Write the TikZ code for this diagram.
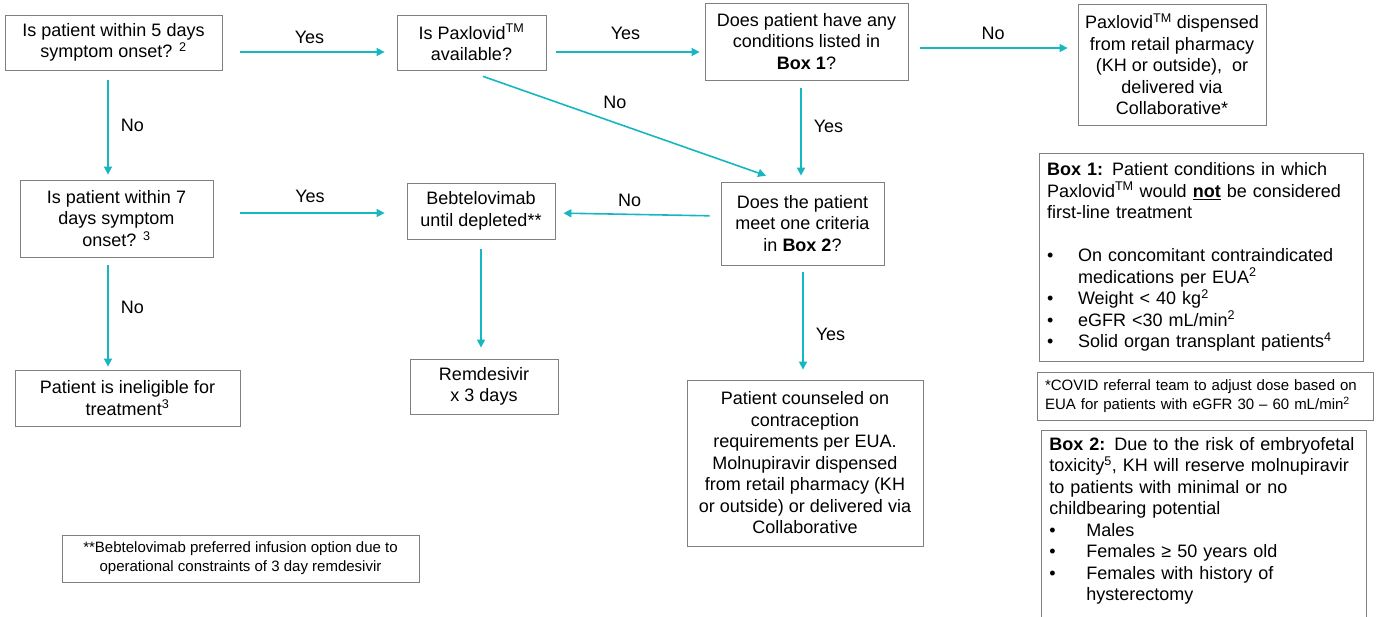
\documentclass[tikz,border=0pt]{standalone}
\usepackage{fontspec}
\setmainfont{Liberation Sans}
\usepackage{tikz}
\usetikzlibrary{positioning}
\usetikzlibrary{arrows.meta}
\definecolor{flowteal}{RGB}{23,183,194}
\definecolor{boxgray}{RGB}{128,128,128}
\newcommand{\bl}[1][31pt]{\makebox[#1][l]{\textbullet}}
\newcommand{\tm}{\textsuperscript{TM}}

\begin{document}
\begin{tikzpicture}[x=1pt,y=-1pt,
  font=\fontsize{18}{21.5}\selectfont,
  box/.style={draw=boxgray, line width=0.8pt, align=center, inner sep=0pt},
  notebox/.style={box, font=\fontsize{15}{19}\selectfont},
  flow/.style={draw=flowteal, line width=1.6pt, -{Triangle[length=8pt,width=8pt]}},
  lbl/.style={inner sep=1pt}]
\useasboundingbox (0,0) rectangle (1376,616);

% questions and outcomes
\node[box, minimum width=217pt, minimum height=55pt] (q5) at (113.5,42.5) {Is patient within 5 days\\symptom onset? \textsuperscript{2}};
\node[box, minimum width=149pt, minimum height=55pt] (paxq) at (471.5,42.5) {Is Paxlovid\tm\\available?};
\node[box, minimum width=203pt, minimum height=77pt] (box1q) at (806.5,41.5) {Does patient have any\\conditions listed in\\\textbf{Box 1}?};
\node[box, minimum width=188pt, minimum height=121pt] (paxdisp) at (1172,64.5) {Paxlovid\tm{} dispensed\\from retail pharmacy\\(KH or outside),\ \ or\\delivered via\\Collaborative*};
\node[box, minimum width=193pt, minimum height=77pt] (q7) at (116.5,218.5) {Is patient within 7\\days symptom\\onset? \textsuperscript{3}};
\node[box, minimum width=148pt, minimum height=56pt] (bebt) at (481,211) {Bebtelovimab\\until depleted**};
\node[box, minimum width=163pt, minimum height=83pt] (critq) at (802.5,223.5) {Does the patient\\meet one criteria\\in \textbf{Box 2}?};
\node[box, minimum width=225pt, minimum height=56pt] (inelig) at (127.5,398) {Patient is ineligible for\\treatment\textsuperscript{3}};
\node[box, minimum width=148pt, minimum height=55pt] (remdes) at (484,386.5) {Remdesivir\\x 3 days};
\node[box, minimum width=236pt, minimum height=166pt] (counsel) at (805,463) {Patient counseled on\\contraception\\requirements per EUA.\\Molnupiravir dispensed\\from retail pharmacy (KH\\or outside) or delivered via\\Collaborative};

% side boxes
\node[box, align=left, inner xsep=8pt, text width=308pt, minimum height=208pt] (boxone) at (1201,257) {\textbf{Box 1:} Patient conditions in which\\Paxlovid\tm{} would \underline{\textbf{not}} be considered\\first-line treatment\\[\baselineskip]
\bl On concomitant contraindicated\\\hspace*{31pt}medications per EUA\textsuperscript{2}\\\bl Weight < 40 kg\textsuperscript{2}\\\bl eGFR <30 mL/min\textsuperscript{2}\\\bl Solid organ transplant patients\textsuperscript{4}};
\node[notebox, align=left, inner xsep=8pt, text width=320pt, minimum height=48pt] (covnote) at (1205,396) {*COVID referral team to adjust dose based on\\EUA for patients with eGFR 30 – 60 mL/min\textsuperscript{2}};
\node[box, align=left, anchor=north west, inner xsep=8pt, inner ysep=7pt, text width=309pt, text depth=180pt] (boxtwo) at (1041,430) {\textbf{Box 2:} Due to the risk of embryofetal\\toxicity\textsuperscript{5}, KH will reserve molnupiravir\\to patients with minimal or no\\childbearing potential\\
\bl[37pt]Males\\\bl[37pt]Females ≥ 50 years old\\\bl[37pt]Females with history of\\\hspace*{37pt}hysterectomy};
\node[notebox, minimum width=357pt, minimum height=47pt] (bebtnote) at (240.5,558.5) {**Bebtelovimab preferred infusion option due to\\operational constraints of 3 day remdesivir};

% connectors
\draw[flow, shorten <=18pt, shorten >=12pt] ([yshift=-9.5pt]q5.east) -- ([yshift=-9.5pt]q5.east -| paxq.west) node[lbl, midway, above=7pt] {Yes};
\draw[flow, shorten <=10pt, shorten >=5pt] ([yshift=-9.5pt]paxq.east) -- ([yshift=-9.5pt]paxq.east -| box1q.west) node[lbl, midway, above=11pt] {Yes};
\draw[flow, shorten <=12pt, shorten >=10pt] ([yshift=-6.5pt]box1q.east) -- ([yshift=-6.5pt]box1q.east -| paxdisp.west) node[lbl, midway, above=7pt] {No};
\draw[flow, shorten <=10pt, shorten >=5pt] ([xshift=-5.5pt]q5.south) -- ([xshift=-5.5pt]q5.south |- q7.north) node[lbl, midway, right=11pt] {No};
\draw[flow, shorten <=8pt, shorten >=3pt] ([xshift=-8.5pt]q7.south) -- ([xshift=-8.5pt]q7.south |- inelig.north) node[lbl, pos=0.45, right=11pt] {No};
\draw[flow, shorten <=27pt, shorten >=22pt] ([yshift=5.5pt]q7.east) -- ([yshift=5.5pt]q7.east -| bebt.west) node[lbl, midway, above=9pt] {Yes};
\draw[flow, shorten <=11pt, shorten >=8pt] ([yshift=7.5pt]critq.west) -- ([yshift=-2pt]bebt.east) node[lbl, pos=0.55, above=6pt] {No};
\draw[flow, shorten <=18pt, shorten >=18pt] ([xshift=-5.5pt]paxq.south) -- ([xshift=-19.5pt]critq.north) node[lbl, pos=0.47, above=12pt] {No};
\draw[flow, shorten <=8pt, shorten >=6pt] ([xshift=-1.5pt]critq.north |- box1q.south) -- ([xshift=-1.5pt]critq.north) node[lbl, pos=0.45, right=11pt] {Yes};
\draw[flow, shorten <=10pt, shorten >=11pt] (bebt.south) -- (bebt.south |- remdes.north);
\draw[flow, shorten <=7pt, shorten >=10pt] ([xshift=0.5pt]critq.south) -- ([xshift=0.5pt]critq.south |- counsel.north) node[lbl, pos=0.6, right=11pt] {Yes};
\end{tikzpicture}
\end{document}
